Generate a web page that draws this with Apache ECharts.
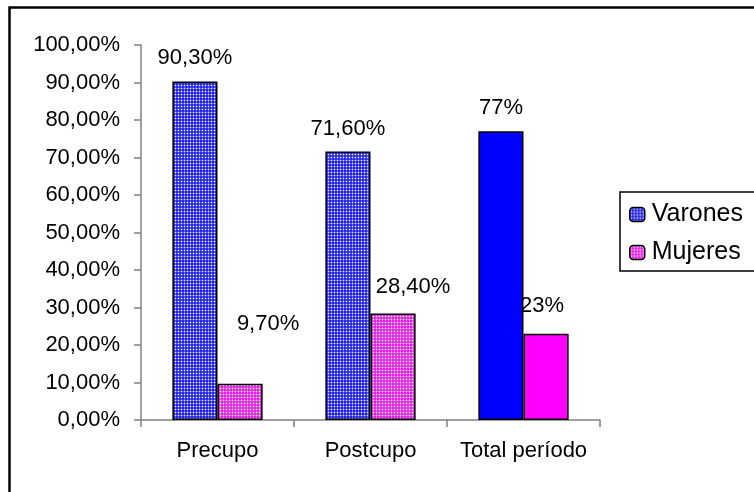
<!DOCTYPE html>
<html>
<head>
<meta charset="utf-8">
<script src="https://cdn.jsdelivr.net/npm/echarts@6/dist/echarts.min.js"></script>
<style>
  html, body { margin: 0; padding: 0; background: #fff; }
  #chart { width: 754px; height: 492px; }
</style>
</head>
<body>
<div id="chart"></div>
<script>
// datos
var categories = ['Precupo', 'Postcupo', 'Total período'];
var varones = [90.3, 71.6, 77];
var mujeres = [9.7, 28.4, 23];
var varonesLabels = ['90,30%', '71,60%', '77%'];
var mujeresLabels = ['9,70%', '28,40%', '23%'];

// desplazamiento de las etiquetas (como en el original)
var mujeresLabelOffset = [[28, -37], [20, -4], [-4, -5]];

var font = 'Liberation Sans, Arial, sans-serif';

// trama de puntos para las barras
function makePattern(base) {
  var c = document.createElement('canvas');
  c.width = 3;
  c.height = 3;
  var ctx = c.getContext('2d');
  ctx.fillStyle = base;
  ctx.fillRect(0, 0, 3, 3);
  ctx.fillStyle = 'rgba(255,255,255,0.25)';
  ctx.fillRect(1, 0, 1, 3);
  ctx.fillRect(0, 1, 3, 1);
  ctx.fillStyle = 'rgba(255,255,255,0.95)';
  ctx.fillRect(1, 1, 1, 1);
  return { image: c, repeat: 'repeat' };
}

var bluePattern = makePattern('#2626e6');
var pinkPattern = makePattern('#e026e0');

var varonesData = varones.map(function (v, i) {
  var item = { value: v };
  if (i == 2) item.itemStyle = { color: '#0000ff' };
  return item;
});

var mujeresData = mujeres.map(function (v, i) {
  var item = { value: v, label: { offset: mujeresLabelOffset[i] } };
  if (i == 2) item.itemStyle = { color: '#ff00ff' };
  return item;
});

var chart = echarts.init(document.getElementById('chart'));

var option = {
  animation: false,
  textStyle: { fontFamily: font },
  grid: { left: 141, right: 154, top: 45, bottom: 72 },
  legend: {
    orient: 'vertical',
    left: 620,
    top: 192,
    padding: [10, 40, 6, 9],
    itemGap: 13,
    itemWidth: 15,
    itemHeight: 14,
    borderColor: '#000',
    borderWidth: 1.5,
    textStyle: { fontSize: 25, color: '#000', fontFamily: font, padding: [0, 0, 0, 2] },
    data: [
      { name: 'Varones', itemStyle: { borderColor: '#000', borderWidth: 1.5 } },
      { name: 'Mujeres', itemStyle: { borderColor: '#000', borderWidth: 1.5 } }
    ]
  },
  xAxis: {
    type: 'category',
    data: categories,
    axisLine: { lineStyle: { color: '#808080', width: 1.5 } },
    axisTick: { show: true, interval: 0, length: 7, lineStyle: { color: '#808080', width: 1.5 } },
    axisLabel: { interval: 0, color: '#000', fontSize: 22, margin: 20, fontFamily: font }
  },
  yAxis: {
    type: 'value',
    min: 0,
    max: 100,
    interval: 10,
    axisLine: { show: true, lineStyle: { color: '#808080', width: 1.5 } },
    axisTick: { show: true, length: 7, lineStyle: { color: '#808080', width: 1.5 } },
    splitLine: { show: false },
    axisLabel: {
      color: '#000',
      fontSize: 22,
      margin: 21,
      fontFamily: font,
      formatter: function (v) { return v.toFixed(2).replace('.', ',') + '%'; }
    }
  },
  series: [
    {
      name: 'Varones',
      type: 'bar',
      data: varonesData,
      barCategoryGap: '41%',
      barGap: '0%',
      itemStyle: { color: bluePattern, borderColor: '#000', borderWidth: 1.5 },
      label: {
        show: true,
        position: 'top',
        distance: 12,
        fontSize: 22,
        color: '#000',
        fontFamily: font,
        formatter: function (p) { return varonesLabels[p.dataIndex]; }
      }
    },
    {
      name: 'Mujeres',
      type: 'bar',
      data: mujeresData,
      barCategoryGap: '41%',
      barGap: '0%',
      itemStyle: { color: pinkPattern, borderColor: '#000', borderWidth: 1.5 },
      label: {
        show: true,
        position: 'top',
        distance: 12,
        fontSize: 22,
        color: '#000',
        fontFamily: font,
        formatter: function (p) { return mujeresLabels[p.dataIndex]; }
      }
    }
  ],
  // marco exterior
  graphic: [
    {
      type: 'rect',
      shape: { x: 9.5, y: 7.5, width: 800, height: 600 },
      style: { fill: 'none', stroke: '#000', lineWidth: 2.5 },
      silent: true
    }
  ]
};

chart.setOption(option);
</script>
</body>
</html>
